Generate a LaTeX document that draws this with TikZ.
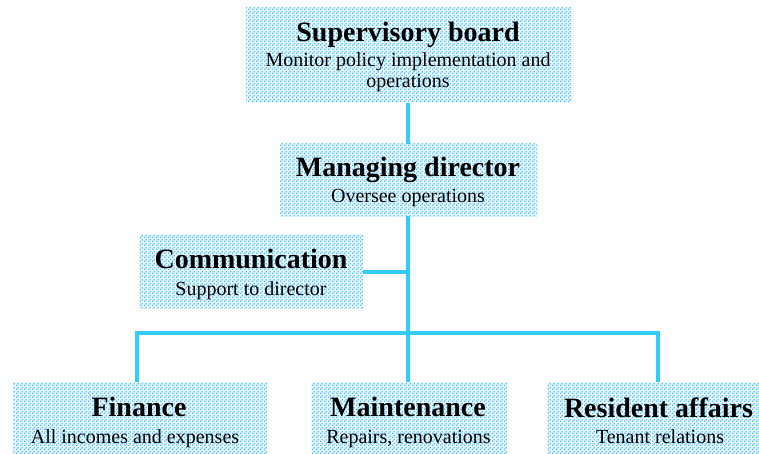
\documentclass[tikz,border=0pt]{standalone}
\usepackage{fontspec}
\setmainfont{Liberation Serif}
\usetikzlibrary{patterns.meta}
\definecolor{linec}{RGB}{51,204,255}
\definecolor{dotc}{RGB}{70,195,250}
\definecolor{bgc}{RGB}{232,247,254}
\tikzdeclarepattern{
  name=bluedots,
  type=colored,
  bottom left={(0pt,0pt)},
  top right={(4pt,4pt)},
  tile size={(4pt,4pt)},
  code={
    \fill[dotc] (0pt,0pt) rectangle (1.6pt,1.6pt);
    \fill[dotc] (2pt,2pt) rectangle (3.6pt,3.6pt);
  }
}
\tikzset{
  box/.style={rectangle, inner sep=0pt, draw=none, fill=bgc, postaction={pattern=bluedots}},
  ttl/.style={anchor=base, inner sep=0pt, font=\fontsize{28}{30}\selectfont\bfseries},
  sub/.style={anchor=base, inner sep=0pt, font=\fontsize{20}{24}\selectfont},
  conn/.style={draw=linec, line width=3.3pt, line join=miter}
}
\begin{document}
\begin{tikzpicture}[x=1pt,y=-1pt]
\useasboundingbox (0,0) rectangle (759,454);
% boxes
\node[box, minimum width=326pt, minimum height=95pt] (board) at (409,55.5) {};
\node[box, minimum width=257pt, minimum height=72pt] (mgr) at (408.5,180) {};
\node[box, minimum width=224pt, minimum height=74pt] (comm) at (251,271) {};
\node[box, minimum width=254pt, minimum height=72pt] (fin) at (140,418) {};
\node[box, minimum width=196pt, minimum height=72pt] (maint) at (409,418) {};
\node[box, minimum width=212pt, minimum height=72pt] (res) at (653,418) {};
% texts
\node[ttl] (boardT) at (408,42) {Supervisory board};
\node[sub] (boardS1) at (408,67) {Monitor policy implementation and};
\node[sub] (boardS2) at (408,88) {operations};
\node[ttl] (mgrT) at (408,177) {Managing director};
\node[sub] (mgrS) at (408,203) {Oversee operations};
\node[ttl] (commT) at (251,268) {Communication};
\node[sub] (commS) at (251,295) {Support to director};
\node[ttl] (finT) at (139,416) {Finance};
\node[sub] (finS) at (135,443) {All incomes and expenses};
\node[ttl] (maintT) at (408,416) {Maintenance};
\node[sub] (maintS) at (408.5,443) {Repairs, renovations};
\node[ttl] (resT) at (658.5,417) {Resident affairs};
\node[sub] (resS) at (660,443) {Tenant relations};
% connectors
\coordinate (j) at (408,333);
\coordinate (jc) at (408,272);
\coordinate (jl) at (137,333);
\coordinate (jr) at (658,333);
\draw[conn] (board.south -| j) -- (mgr.north -| j);
\draw[conn] (mgr.south -| j) -- (maint.north -| j);
\draw[conn] (comm.east |- jc) -- (jc);
\draw[conn] (jl |- fin.north) -- (jl) -- (jr) -- (jr |- res.north);
\end{tikzpicture}
\end{document}
